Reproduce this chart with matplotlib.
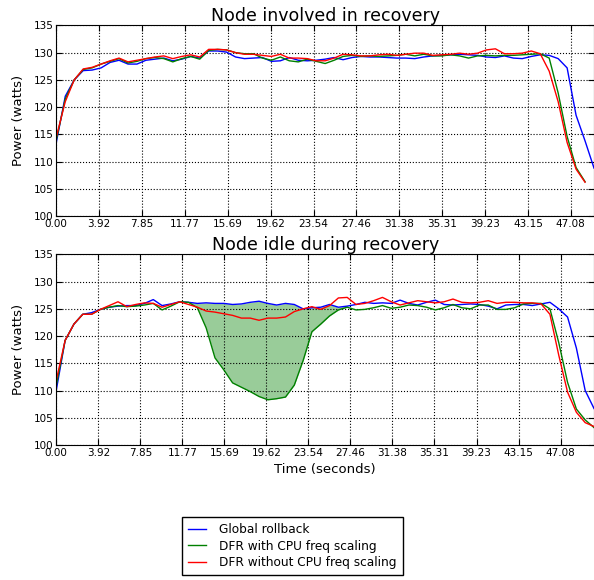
import numpy as np
import matplotlib
matplotlib.use('Agg')
import matplotlib.pyplot as plt

# sample times (s) for each panel
time_top = np.linspace(0, 49.2, 61)
time_bot = np.linspace(0, 50.2, 62)

# Node involved in recovery (watts)
top_global = [113.5, 122.0, 125.0, 126.7, 126.8, 127.2, 128.2, 128.6, 127.9, 127.9,
              128.6, 128.8, 129.0, 128.5, 128.8, 129.3, 129.0, 130.3, 130.3, 130.1,
              129.2, 128.9, 129.0, 129.1, 128.4, 128.5, 129.1, 128.6, 128.5, 128.6,
              128.8, 129.1, 128.7, 129.1, 129.3, 129.2, 129.2, 129.1, 129.0, 129.0,
              128.9, 129.2, 129.4, 129.5, 129.6, 129.7, 129.6, 129.5, 129.2, 129.1,
              129.4, 129.0, 128.9, 129.3, 129.6, 129.5, 128.9, 127.2, 118.5, 113.8,
              108.8]
top_dfr_scal = [114.0, 121.5, 125.0, 126.9, 127.2, 127.9, 128.4, 128.9, 128.1, 128.4,
                128.9, 129.1, 128.9, 128.3, 128.9, 129.3, 128.8, 130.4, 130.6, 130.5,
                130.0, 129.8, 129.8, 129.0, 128.6, 129.2, 128.5, 128.3, 128.8, 128.4,
                128.0, 128.6, 129.3, 129.5, 129.3, 129.4, 129.3, 129.4, 129.5, 129.7,
                129.4, 129.7, 129.4, 129.4, 129.6, 129.4, 129.0, 129.4, 129.5, 129.4,
                129.5, 129.5, 129.6, 129.7, 129.8, 129.0, 122.6, 114.6, 108.9, 106.3,
                np.nan]
top_dfr_noscal = [114.5, 121.0, 125.0, 127.0, 127.3, 127.9, 128.5, 129.0, 128.3, 128.6,
                  128.9, 129.2, 129.4, 128.9, 129.3, 129.6, 129.2, 130.6, 130.6, 130.5,
                  130.0, 129.7, 129.7, 129.5, 129.3, 129.7, 129.0, 129.0, 128.9, 128.5,
                  128.5, 129.0, 129.7, 129.6, 129.4, 129.4, 129.6, 129.7, 129.5, 129.7,
                  129.9, 129.9, 129.5, 129.6, 129.7, 129.9, 129.7, 129.9, 130.5, 130.7,
                  129.8, 129.8, 129.9, 130.3, 129.8, 126.6, 121.0, 113.5, 108.6, 106.2,
                  np.nan]

# Node idle during recovery (watts)
bot_global = [110.1, 119.2, 122.2, 124.0, 124.3, 124.9, 125.3, 125.5, 125.6, 125.6,
              126.0, 126.7, 125.6, 125.9, 126.3, 126.2, 126.0, 126.1, 126.0, 126.0,
              125.8, 125.9, 126.2, 126.4, 126.0, 125.7, 126.0, 125.8, 125.0, 125.2,
              125.3, 125.8, 125.3, 125.5, 125.8, 126.2, 126.0, 126.1, 126.0, 126.6,
              126.0, 125.7, 126.2, 126.6, 125.8, 125.7, 125.8, 125.9, 125.8, 125.5,
              125.0, 125.7, 125.8, 125.8, 125.6, 125.9, 126.2, 125.0, 123.5, 117.8,
              110.0, 106.7]
bot_dfr_scal = [111.0, 119.2, 122.2, 124.0, 124.0, 124.9, 125.3, 125.6, 125.4, 125.5,
                125.7, 126.0, 124.8, 125.5, 126.3, 126.2, 125.2, 121.5, 116.0, 113.8,
                111.4, 110.6, 109.8, 108.9, 108.3, 108.5, 108.8, 111.0, 115.5, 120.8,
                122.2, 123.7, 124.8, 125.3, 124.8, 124.9, 125.2, 125.6, 125.1, 125.3,
                125.7, 125.6, 125.3, 124.8, 125.2, 125.8, 125.2, 125.0, 125.7, 125.7,
                124.9, 124.9, 125.2, 125.9, 126.0, 126.0, 125.0, 118.8, 111.5, 106.6,
                104.6, 103.2]
bot_dfr_noscal = [111.9, 119.2, 122.2, 124.0, 124.0, 124.9, 125.6, 126.3, 125.4, 125.8,
                  126.1, 126.0, 125.3, 125.8, 126.3, 125.8, 125.3, 124.6, 124.4, 124.1,
                  123.8, 123.3, 123.3, 122.9, 123.3, 123.3, 123.5, 124.5, 125.0, 125.4,
                  124.9, 125.6, 127.0, 127.1, 125.8, 126.0, 126.5, 127.1, 126.3, 125.7,
                  126.1, 126.5, 126.3, 126.1, 126.3, 126.8, 126.2, 126.1, 126.2, 126.5,
                  126.0, 126.2, 126.2, 126.1, 126.1, 125.9, 124.0, 116.5, 109.7, 106.0,
                  104.1, 103.4]

LABELS = ['Global rollback', 'DFR with CPU freq scaling', 'DFR without CPU freq scaling']
XTICKS = np.linspace(0, 51, 14)


def estilo(ax, xmax, title):
    ax.set_xticks(XTICKS)
    ax.set_xticklabels(['%.2f' % v for v in XTICKS])
    ax.set_yticks(range(100, 136, 5))
    ax.set_xlim(0, xmax)   # depois dos ticks (set_xticks expande os limites)
    ax.set_ylim(100, 135)
    ax.tick_params(direction='in', top=True, right=True, labelsize=7.5, length=4, pad=2)
    ax.grid(True, color='k', ls=':', lw=0.8)
    ax.set_ylabel('Power (watts)', fontsize=9.5, labelpad=6)
    ax.set_title(title, fontsize=12.5, pad=3)


fig = plt.figure(figsize=(5.94, 5.80), dpi=100, facecolor='white')
axA = fig.add_axes([0.0948, 0.6276, 0.9052, 0.3286])
axB = fig.add_axes([0.0948, 0.2328, 0.9052, 0.3286])

axA.plot(time_top, top_global, color='b', lw=1)
axA.plot(time_top, top_dfr_scal, color='g', lw=1)
axA.plot(time_top, top_dfr_noscal, color='r', lw=1)
estilo(axA, time_top[-1], 'Node involved in recovery')

bg = np.array(bot_global); bs = np.array(bot_dfr_scal)
faixa = (time_bot >= time_bot[14]) & (time_bot <= time_bot[33])
axB.fill_between(time_bot, bg, bs, where=faixa, color='g', alpha=0.4, lw=0)
l1, = axB.plot(time_bot, bot_global, color='b', lw=1)
l2, = axB.plot(time_bot, bot_dfr_scal, color='g', lw=1)
l3, = axB.plot(time_bot, bot_dfr_noscal, color='r', lw=1)
estilo(axB, time_bot[-1], 'Node idle during recovery')
axB.set_xlabel('Time (seconds)', fontsize=9.5, labelpad=4)

leg = fig.legend([l1, l2, l3], LABELS, loc='upper left',
                 bbox_to_anchor=(182 / 594, 1 - 517 / 580), fontsize=8.7,
                 fancybox=False, framealpha=1, borderaxespad=0,
                 handlelength=1.5, handletextpad=1.1, labelspacing=0.3,
                 borderpad=0.5)
leg.get_frame().set_edgecolor('k')

fig.savefig('out.png', dpi=100, facecolor='white')
